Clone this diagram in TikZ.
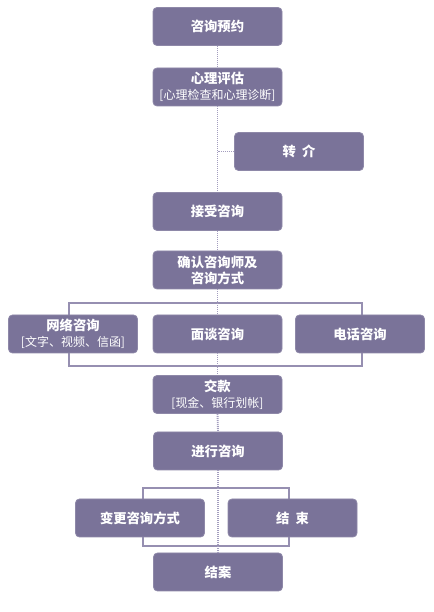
\documentclass[tikz,border=0pt]{standalone}
\usepackage{fontspec}
\newfontfamily\cjk{Noto Sans CJK SC}
\usetikzlibrary{calc,positioning,backgrounds}
\definecolor{boxPurple}  {HTML}{7A7399}
\definecolor{frameGray}  {HTML}{968FB1}
\definecolor{trunkGray}  {HTML}{A39DBE}
\newcommand{\subline}[1]{{\mdseries\fontsize{9pt}{10.5pt}\selectfont #1}}
\tikzset{
  font=\cjk\bfseries\fontsize{10pt}{12pt}\selectfont,
  box/.style={rectangle,rounded corners=3pt,draw=boxPurple!85,line width=0.6pt,fill=boxPurple,text=white,
    minimum width=96.75pt,minimum height=28.5pt,align=center,inner sep=1pt},
  trunk/.style={draw=trunkGray,line width=1.4pt,dash pattern=on 0.75pt off 0.75pt},
  frame/.style={draw=frameGray,line width=1.5pt},
}
\begin{document}
\begin{tikzpicture}[x=0.75pt,y=0.75pt]

\useasboundingbox (0,0) rectangle (434,612);

\node[box] (yuyue)    at (217.5,585.5) {咨询预约};
\node[box] (pinggu)   at (217.5,525)   {心理评估\\\subline{[心理检查和心理诊断]}};
\node[box] (zhuanjie) at (299,460.5)   {转\ \ 介};
\node[box] (jieshou)  at (217.5,400.5) {接受咨询};
\node[box] (queren)   at (217.5,342)   {确认咨询师及\\咨询方式};

\node[box] (wangluo)  at (73,278)      {网络咨询\\\subline{[文字、视频、信函]}};
\node[box] (miantan)  at (217.5,278)   {面谈咨询};
\node[box] (dianhua)  at (360,278)     {电话咨询};

\node[box] (jiaokuan) at (217.5,217.5) {交款\\\subline{[现金、银行划帐]}};
\node[box] (jinxing)  at (218,161)     {进行咨询};

\node[box] (biangeng) at (140,94)      {变更咨询方式};
\node[box] (jieshu)   at (292.5,94)    {结\ \ 束};
\node[box] (jiean)    at (218,40)      {结案};

\begin{scope}[on background layer]
% brackets round the branch rows
\draw[frame] ($(wangluo.north)+(-4,12)$) rectangle ($(dianhua.south)+(2,-13)$);
\draw[frame] ($(biangeng.north)+(3,11)$) rectangle ($(jieshu.south)+(-4,-9)$);
\end{scope}

\draw[trunk] (yuyue.south) -- (pinggu.north);
\draw[trunk] (pinggu.south) -- (jieshou.north);
\draw[trunk] (zhuanjie.west) -- (zhuanjie.west -| pinggu.south);
\draw[trunk] (jieshou.south) -- (queren.north);
\draw[trunk] (queren.south) -- (miantan.north);
\draw[trunk] (miantan.south) -- (jiaokuan.north);
\draw[trunk] (jiaokuan.south) -- (jinxing.north);
\draw[trunk] (jinxing.south) -- (jiean.north);

\end{tikzpicture}
\end{document}
